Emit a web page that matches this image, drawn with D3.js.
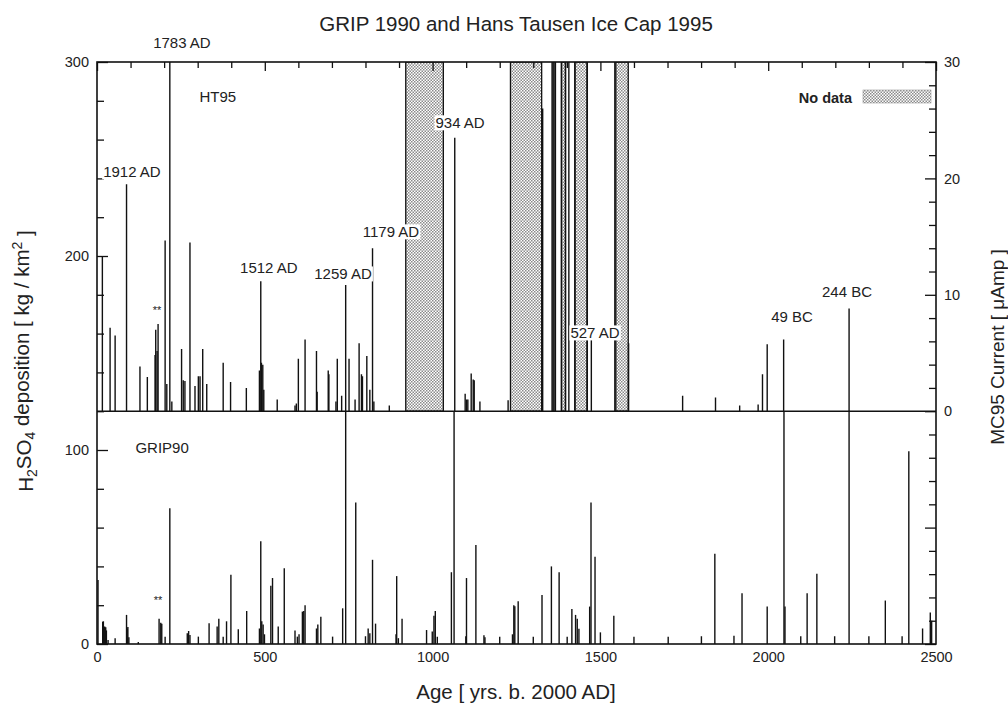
<!DOCTYPE html>
<html>
<head>
<meta charset="utf-8">
<script src="https://cdn.jsdelivr.net/npm/d3@7"></script>
<style>
  body { margin: 0; background: #fff; }
  text { font-family: "Liberation Sans", Arial, Helvetica, sans-serif; fill: #222; }
</style>
</head>
<body>
<svg id="chart"></svg>
<script>
// HT95 (upper panel): [age in yrs b. 2000 AD, reading on left axis]
var ht95 = [
  [16,200],[39,163],[54,159],[88,237],[128,143],[150,137.6],[173,149],[175,162],[179,151],
  [182,165],[203,208],[208,134],[217,300],[223,125],[252,152],[257,136],[262,135.6],[277,207],
  [292,133],[302,138],[307,138],[315,152],[327,134],[376,145],[398,135],[445,132],
  [484,141],[488,187],[490,145],[494,144],[497,131],[537,126],[590,123],[594,124],[600,147],
  [620,157],[654,151],[656,130],[689,141],[691,139],[712,125],[716,147],[729,128],[741,185],
  [751,147],[769,126],[781,155],[788,139],[791,138],[804,148.5],[813,131],[821,204],[825,125],
  [871,123],[1066,261],[1097,129],[1101,126],[1105,126],[1115,139.4],[1121,136.4],[1124,136],
  [1141,125],[1225,125.6],[1328,276],[1356,310],[1359,310],[1362,310],[1366,310],[1384,310],
  [1396,310],[1406,310],[1424,310],[1461,310],[1473,157],[1543,310],[1584,155],[1745,128],
  [1843,127],[1915,123],[1970,123.5],[1983,139],[1997,154.5],[2046,157],[2241,173]
]

// GRIP90 (lower panel): [age, deposition kg/km2]
var grip90 = [
  [3,33],[17,11.5],[19,11.7],[23,9],[26,8.6],[28,7],[33,2],[54,2.9],[88,15],[90,8],[92,8.8],
  [95,3.5],[123,1],[185,13],[190,11],[193,10.5],[203,3.8],[217,70],[269,5.5],[273,6.7],[277,4.6],
  [302,3.8],[334,10.7],[358,9],[363,13],[376,3.8],[386,11.7],[399,35.7],[421,7.6],[446,17],
  [484,8],[488,53],[491,11.7],[495,10],[499,5],[518,30],[523,34],[540,9],[558,39],[590,7],
  [597,3.8],[602,5],[612,16.7],[616,17],[620,20],[654,8],[658,10],[667,14],[702,3.8],[732,18.4],
  [741,125],[771,73],[800,4],[808,8],[813,5.5],[821,43.4],[830,10.5],[891,5],[893,35],[898,3],
  [909,13],[982,7.2],[999,6.4],[1004,14.5],[1008,17],[1014,3.8],[1056,37],[1064,125],[1099,4],
  [1101,34],[1129,51],[1153,4.5],[1156,3.5],[1200,3.8],[1238,5],[1242,20],[1245,19.5],[1255,22],
  [1300,3.8],[1326,25.3],[1354,40],[1377,37],[1401,3.8],[1415,18],[1426,15],[1431,13],[1436,7.8],
  [1468,19.3],[1472,73],[1484,45],[1500,6],[1540,14.5],[1600,3.8],[1702,3.8],[1801,4],[1841,46.5],
  [1898,4.3],[1922,26.2],[1997,19.3],[2047,125],[2050,19.3],[2097,4],[2116,26.2],[2145,36.2],
  [2198,4],[2241,125],[2300,4],[2349,22.4],[2399,4],[2419,99.4],[2460,8],[2483,16.2],[2487,12]
]

// gaps in the HT95 record
var noData = [[920,1032],[1232,1325],[1384,1396],[1424,1460],[1546,1583]]

var xTicks = [0, 500, 1000, 1500, 2000, 2500]
var leftTicks = [0, 100, 200, 300]
var rightTicks = [0, 10, 20, 30]

// event labels: [text, age, left-axis value]
var events = [
  ['1783 AD', 253, 309.8], ['1912 AD', 104, 243.3], ['1512 AD', 512, 193.8],
  ['1259 AD', 733, 190.7], ['1179 AD', 876, 212.4], ['934 AD', 1082, 268.6],
  ['527 AD', 1484, 160.3], ['49 BC', 2071, 169], ['244 BC', 2235, 181.4]
]
var panelNames = [['HT95', 360, 282], ['GRIP90', 194, 101]]
var stars = [[179, 173.7], [182, 24.2]]

var split = 120 // left-axis value where the two panels meet

var svg = d3.select('#chart').attr('width', 1008).attr('height', 708)

var x = d3.scaleLinear().domain([0, 2500]).range([97, 936])
var y = d3.scaleLinear().domain([0, 300]).range([644, 62])
var yR = d3.scaleLinear().domain([-20, 30]).range([644, 62])

var defs = svg.append('defs')
var pat = defs.append('pattern').attr('id', 'dots')
  .attr('width', 3).attr('height', 3).attr('patternUnits', 'userSpaceOnUse')
pat.append('rect').attr('width', 3).attr('height', 3).attr('fill', '#fff')
pat.append('rect').attr('width', 1.5).attr('height', 1.5).attr('fill', '#8a8a8a')
pat.append('rect').attr('x', 1.5).attr('y', 1.5).attr('width', 1.5).attr('height', 1.5).attr('fill', '#8a8a8a')

defs.append('clipPath').attr('id', 'clipTop').append('rect')
  .attr('x', x(0)).attr('y', y(300)).attr('width', x(2500) - x(0)).attr('height', y(split) - y(300))
defs.append('clipPath').attr('id', 'clipBot').append('rect')
  .attr('x', x(0)).attr('y', y(split)).attr('width', x(2500) - x(0)).attr('height', y(0) - y(split))

// no data bands
svg.append('g').attr('clip-path', 'url(#clipTop)')
  .selectAll('rect').data(noData).join('rect')
  .attr('x', d => x(d[0])).attr('width', d => x(d[1]) - x(d[0]))
  .attr('y', y(300)).attr('height', y(split) - y(300))
  .attr('fill', 'url(#dots)').attr('stroke', '#111').attr('stroke-width', 1.3)

var barStyle = function(sel){ sel.attr('stroke', '#111').attr('stroke-width', 1.4) }

svg.append('g').attr('clip-path', 'url(#clipTop)')
  .selectAll('line').data(ht95).join('line')
  .attr('x1', d => x(d[0])).attr('x2', d => x(d[0]))
  .attr('y1', y(split)).attr('y2', d => y(d[1]))
  .call(barStyle)

svg.append('g').attr('clip-path', 'url(#clipBot)')
  .selectAll('line').data(grip90).join('line')
  .attr('x1', d => x(d[0])).attr('x2', d => x(d[0]))
  .attr('y1', y(0)).attr('y2', d => y(d[1]))
  .call(barStyle)

// axes, ticks point inward
var fmt = function(list){ return d => list.indexOf(d) > -1 ? d : '' }

var gl = svg.append('g').attr('transform', 'translate(' + x(0) + ',0)')
  .call(d3.axisLeft(y).tickValues(d3.range(0, 301, 20)).tickSizeInner(-7).tickSizeOuter(0)
    .tickPadding(8).tickFormat(fmt(leftTicks)))
gl.selectAll('.tick line').filter(d => d % 100 == 0).attr('x2', 11)

var gr = svg.append('g').attr('transform', 'translate(' + x(2500) + ',0)')
  .call(d3.axisRight(yR).tickValues(d3.range(-20, 31, 2)).tickSizeInner(-7).tickSizeOuter(0)
    .tickPadding(8).tickFormat(fmt(rightTicks)))
gr.selectAll('.tick line').filter(d => d % 10 == 0).attr('x2', -11)

var gt = svg.append('g').attr('transform', 'translate(0,' + y(300) + ')')
  .call(d3.axisTop(x).tickValues(d3.range(0, 2501, 100)).tickSizeInner(-6).tickSizeOuter(0)
    .tickFormat(''))
gt.selectAll('.tick line').filter(d => d % 500 == 0).attr('y2', 9)

svg.append('g').attr('transform', 'translate(0,' + y(0) + ')')
  .call(d3.axisBottom(x).tickValues(xTicks).tickSize(0).tickPadding(8).tickFormat(d3.format('d')))

svg.selectAll('.domain').remove()
svg.selectAll('.tick line').attr('stroke', '#111').attr('stroke-width', 1.3)
svg.selectAll('.tick text').attr('font-size', '14.5px').attr('fill', '#222')
  .attr('font-family', '"Liberation Sans", Arial, sans-serif')

// frame and panel divider
svg.append('rect').attr('x', x(0)).attr('y', y(300))
  .attr('width', x(2500) - x(0)).attr('height', y(0) - y(300))
  .attr('fill', 'none').attr('stroke', '#111').attr('stroke-width', 1.6)
svg.append('line').attr('x1', x(0)).attr('x2', x(2500)).attr('y1', y(split)).attr('y2', y(split))
  .attr('stroke', '#111').attr('stroke-width', 1.6)

// labels with white boxes
function boxed(txt, cx, cy, size){
  var g = svg.append('g')
  var t = g.append('text').attr('x', cx).attr('y', cy).attr('dy', '0.36em')
    .attr('text-anchor', 'middle').attr('font-size', size).text(txt)
  var b = t.node().getBBox()
  g.insert('rect', 'text').attr('x', b.x - 1).attr('y', b.y + 1)
    .attr('width', b.width + 2).attr('height', b.height - 2).attr('fill', '#fff')
}
events.forEach(d => boxed(d[0], x(d[1]), y(d[2]), '15px'))
panelNames.forEach(d => boxed(d[0], x(d[1]), y(d[2]), '15px'))
stars.forEach(d => svg.append('text').attr('x', x(d[0])).attr('y', y(d[1])).attr('dy', '0.6em')
  .attr('text-anchor', 'middle').attr('font-size', '11px').text('**'))

// legend
svg.append('text').attr('x', 852).attr('y', 98).attr('dy', '0.36em').attr('text-anchor', 'end')
  .attr('font-size', '14.5px').attr('font-weight', 'bold').text('No data')
svg.append('rect').attr('x', 863).attr('y', 90).attr('width', 68).attr('height', 13)
  .attr('fill', 'url(#dots)').attr('stroke', '#999').attr('stroke-width', 0.6)

// titles
svg.append('text').attr('x', 516).attr('y', 30.5).attr('text-anchor', 'middle')
  .attr('font-size', '20.5px').text('GRIP 1990 and Hans Tausen Ice Cap 1995')
svg.append('text').attr('x', 516).attr('y', 699).attr('text-anchor', 'middle')
  .attr('font-size', '20.5px').text('Age [ yrs. b. 2000 AD]')

var yl = svg.append('text').attr('transform', 'translate(33,361) rotate(-90)')
  .attr('text-anchor', 'middle').attr('font-size', '20.5px')
yl.append('tspan').text('H')
yl.append('tspan').attr('dy', '0.3em').attr('font-size', '14px').text('2')
yl.append('tspan').attr('dy', '-0.3em').text('SO')
yl.append('tspan').attr('dy', '0.3em').attr('font-size', '14px').text('4')
yl.append('tspan').attr('dy', '-0.3em').text(' deposition [ kg / km')
yl.append('tspan').attr('dy', '-0.5em').attr('font-size', '14px').text('2')
yl.append('tspan').attr('dy', '0.5em').text(' ]')

svg.append('text').attr('transform', 'translate(1004,347) rotate(-90)')
  .attr('text-anchor', 'middle').attr('font-size', '19px').text('MC95 Current [ \u03bcAmp ]')
</script>
</body>
</html>
